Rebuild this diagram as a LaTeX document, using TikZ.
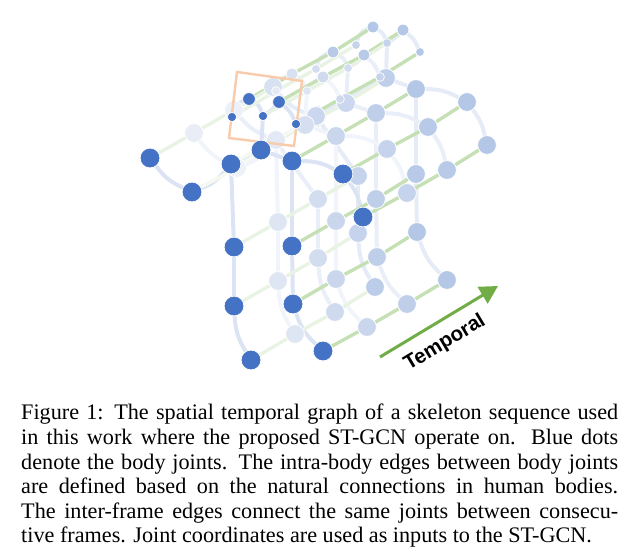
\documentclass[tikz,border=0pt]{standalone}
\usepackage{fontspec}
\setmainfont{Liberation Serif}
\newfontfamily\labelfont{Liberation Sans}
\usetikzlibrary{arrows.meta}
\pgfdeclarelayer{back}
\pgfsetlayers{back,main}
\definecolor{tgreen}{HTML}{C5E0B4}
\definecolor{tpale}{HTML}{E9F3E3}
\definecolor{tfaint}{HTML}{F5F9F2}
\definecolor{aorange}{HTML}{70AD47}
\definecolor{boxorange}{HTML}{F8CBAD}
\tikzset{
  joint/.style={circle,draw=white,line width=.7pt,inner sep=0pt},
  bone/.style={line width=4pt,line cap=round},
  tedge/.style={line width=3.4pt,draw=tgreen},
  tedgep/.style={line width=3.4pt,draw=tpale},
  tedgef/.style={line width=3.4pt,draw=tfaint},
  caption/.style={inner sep=0pt,anchor=north west,align=left,font=\fontsize{22.2pt}{24.6pt}\selectfont}
}
\newcommand{\capline}[1]{\hbox to 597pt{#1}}
\begin{document}
\begin{tikzpicture}[x=1pt,y=-1pt]
\useasboundingbox (0,0) rectangle (630,557);
% frames are laid back to front, so that the first frame lies on top
\foreach \n/\x/\y/\d/\c in {
 handA/273/87/18/D8E1F1, elbowA/316/117/18/CBD7EE, shlA/316/116/18/CBD7EE,
 hipA/358/176/18/C5D3EC, kneeA/358/233/18/C5D3EC, ankA/375/287/18/BCCDEA,
 neckA/386/78/18/C0CFE9, noseA/387/43/8/C5D3EC, eylA/373/27/11/B4C7E7, eyrA/403/30/11/B4C7E7,
 earlA/356/45/8/C5D3EC, earrA/420/52/8/B4C7E7,
 shrA/416/89/18/B4C7E7, elrA/467/102/18/B4C7E7, harA/487/145/18/B4C7E7,
 hirA/416/174/18/B8CAE8, knrA/417/232/18/B4C7E7, anrA/447/280/18/B4C7E7,
 handB/234/110/18/ECF0F8, elbowB/276/140/18/DDE5F3, shlB/275/140/18/DDE5F3,
 hipB/318/199/18/D2DDF0, kneeB/318/258/18/D2DDF0, ankB/335/312/18/CFDAEE,
 neckB/346/103/18/CBD7EE, noseB/348/68/8/D2DDF0, eylB/333/52/11/B8CAE8, eyrB/364/55/11/B8CAE8,
 earlB/316/69/8/D2DDF0, earrB/380/77/8/C5D3EC,
 shrB/376/113/18/BFCFE9, elrB/428/127/18/B8CAE8, harB/447/170/18/B8CAE8,
 hirB/376/199/18/BFCFE9, knrB/377/257/18/BFCFE9, anrB/407/304/18/BFCFE9,
 handC/194/133/18/E8EDF6, elbowC/237/168/18/EDF1F8, shlC/276/140/18/E3E9F5,
 hipC/278/222/18/DFE6F3, kneeC/278/281/18/DFE6F3, ankC/295/334/18/DFE6F3,
 neckC/305/125/18/D6DFF0, noseC/307/91/8/DDE5F3, eylC/292/74/11/D8E1F1, eyrC/323/77/11/D0DBEF,
 earlC/276/91/8/E3E9F5, earrC/340/99/8/CFDAEE,
 shrC/336/136/18/C9D6EC, elrC/387/149/18/C5D3EC, harC/407/193/18/C5D3EC,
 hirC/336/221/18/C9D6EC, knrC/336/279/18/C9D6EC, anrC/367/327/18/C9D6EC}
 {
  \definecolor{jointfill}{HTML}{\c}
  \node[joint,minimum size=\d pt+.8pt,fill=jointfill] (\n) at (\x,\y) {};
 }
% the square round the head
\coordinate (boxa) at (237,72);
\coordinate (boxb) at (302,81);
\coordinate (boxc) at (294,146);
\coordinate (boxd) at (229,138);
\draw[boxorange,line width=2.4pt] (boxa) -- (boxb) -- (boxc) -- (boxd) -- cycle;
% the first frame lies above the square
\foreach \n/\x/\y/\d in {
 handD/150/158/19, elbowD/192/192/19, shlD/231/164/19,
 hipD/234/247/19, kneeD/234/306/19, ankD/251/360/19,
 neckD/261/150/19, noseD/263/116/8.5, eylD/249/99/12, eyrD/279/102/12,
 earlD/232/117/8.5, earrD/296/124/8.5,
 shrD/292/161/19, elrD/343/174/19, harD/363/217/19,
 hirD/292/246/19, knrD/293/304/19, anrD/323/351/19}
 {
  \definecolor{jointfill}{HTML}{4472C4}
  \node[joint,minimum size=\d pt+.8pt,fill=jointfill] (\n) at (\x,\y) {};
 }
\begin{pgfonlayer}{back}
  % edges inside the body, one set for each frame
  \foreach \f/\c in {A/E6ECF7,B/E9EEF8,C/F1F4FA,D/DCE4F4}{
    \definecolor{bonecol}{HTML}{\c}
    \begin{scope}[every path/.style={bone,draw=bonecol}]
      \draw (hand\f) to[bend right=14] (elbow\f);
      \draw (elbow\f) to[bend right=14] (shl\f);
      \draw (shl\f) -- (neck\f);
      \draw (neck\f) -- (shr\f);
      \draw (shr\f) to[bend left=14] (elr\f);
      \draw (elr\f) to[bend left=12] (har\f);
      \draw (neck\f) -- (nose\f);
      \draw (nose\f) to[bend right=20] (eyl\f);
      \draw (nose\f) to[bend right=8] (eyr\f);
      \draw (eyl\f) to[bend right=28] (earl\f);
      \draw (eyr\f) to[bend left=14] (earr\f);
      \draw (shl\f) -- (hip\f);
      \draw (hip\f) -- (knee\f);
      \draw (knee\f) to[bend right=14] (ank\f);
      \draw (shr\f) -- (hir\f);
      \draw (hir\f) -- (knr\f);
      \draw (knr\f) to[bend right=14] (anr\f);
    \end{scope}
  }
  % edges between frames
  \foreach \j/\s in {eyl/tedge,eyr/tedge,earr/tedge,shr/tedge,elr/tedge,har/tedge,hir/tedge,knr/tedge,anr/tedge,
                     hand/tedgep,hip/tedgep,knee/tedgep,ank/tedgep,earl/tedgep,neck/tedgep,nose/tedgep,elbow/tedgef,shl/tedgef}{
    \draw[\s] (\j D) -- (\j C);
    \draw[\s] (\j C) -- (\j B);
    \draw[\s] (\j B) -- (\j A);
  }
\end{pgfonlayer}
% the arrow of time
\coordinate (arrowtail) at (380,357);
\coordinate (arrowhead) at (498,286);
\draw[aorange,line width=3pt,-{Triangle[length=18pt,width=19pt]}] (arrowtail) -- (arrowhead);
\node[rotate=31,inner sep=0pt,font=\labelfont\bfseries\fontsize{20.5pt}{20.5pt}\selectfont] (tlabel) at (445,343) {Temporal};
\node[caption] (cap) at (21,404) {%
 \capline{Figure 1: The spatial temporal graph of a skeleton sequence used}\\
 \capline{in this work where the proposed ST-GCN operate on. Blue dots}\\
 \capline{denote the body joints. The intra-body edges between body joints}\\
 \capline{are defined based on the natural connections in human bodies.}\\
 \capline{The inter-frame edges connect the same joints between consecu-}\\
 tive frames. Joint coordinates are used as inputs to the ST-GCN.};
\end{tikzpicture}
\end{document}
